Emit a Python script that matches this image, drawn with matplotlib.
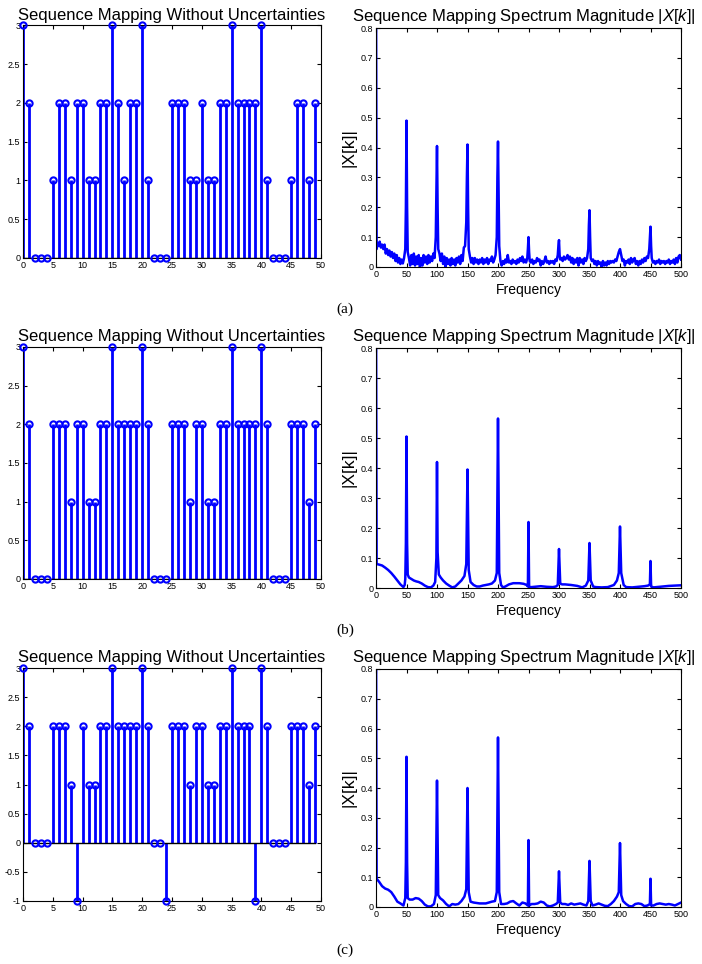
import matplotlib
matplotlib.use("Agg")
import matplotlib.pyplot as plt
import numpy as np

plt.rcParams['font.family'] = ['Liberation Sans', 'DejaVu Sans']
plt.rcParams['mathtext.fontset'] = 'custom'
plt.rcParams['mathtext.rm'] = 'Liberation Sans'
plt.rcParams['mathtext.it'] = 'Liberation Sans:italic'

# sequence values, n = 0..49
n = np.arange(50)
seq_a = [3, 2, 0, 0, 0, 1, 2, 2, 1, 2, 2, 1, 1, 2, 2, 3, 2, 1, 2, 2,
         3, 1, 0, 0, 0, 2, 2, 2, 1, 1, 2, 1, 1, 2, 2, 3, 2, 2, 2, 2,
         3, 1, 0, 0, 0, 1, 2, 2, 1, 2]
seq_b = [3, 2, 0, 0, 0, 2, 2, 2, 1, 2, 2, 1, 1, 2, 2, 3, 2, 2, 2, 2,
         3, 2, 0, 0, 0, 2, 2, 2, 1, 2, 2, 1, 1, 2, 2, 3, 2, 2, 2, 2,
         3, 2, 0, 0, 0, 2, 2, 2, 1, 2]
seq_c = [3, 2, 0, 0, 0, 2, 2, 2, 1, -1, 2, 1, 1, 2, 2, 3, 2, 2, 2, 2,
         3, 2, 0, 0, -1, 2, 2, 2, 1, 2, 2, 1, 1, 2, 2, 3, 2, 2, 2, -1,
         3, 2, 0, 0, 0, 2, 2, 2, 1, 2]

# spectrum (a): noisy
freq_a = [0, 1, 2, 4, 6, 8, 10, 12, 14, 16, 18, 20, 22, 24, 26, 28, 30, 32, 34, 36,
          38, 40, 42, 44, 46, 48, 49, 50, 51, 52, 54, 56, 58, 60, 62, 64, 66, 68, 70, 72,
          74, 76, 78, 80, 82, 84, 86, 88, 90, 92, 94, 96, 98, 99, 100, 101, 102, 104, 106, 108,
          110, 112, 114, 116, 118, 120, 122, 124, 126, 128, 130, 132, 134, 136, 138, 140, 142, 144, 146, 148,
          149, 150, 151, 152, 154, 156, 158, 160, 162, 164, 166, 168, 170, 172, 174, 176, 178, 180, 182, 184,
          186, 188, 190, 192, 194, 196, 198, 199, 200, 201, 202, 204, 206, 208, 210, 212, 214, 216, 218, 220,
          222, 224, 226, 228, 230, 232, 234, 236, 238, 240, 242, 244, 246, 248, 249, 250, 251, 252, 254, 256,
          258, 260, 262, 264, 266, 268, 270, 272, 274, 276, 278, 280, 282, 284, 286, 288, 290, 292, 294, 296,
          298, 299, 300, 301, 302, 304, 306, 308, 310, 312, 314, 316, 318, 320, 322, 324, 326, 328, 330, 332,
          334, 336, 338, 340, 342, 344, 346, 348, 349, 350, 351, 352, 354, 356, 358, 360, 362, 364, 366, 368,
          370, 372, 374, 376, 378, 380, 382, 384, 386, 388, 390, 392, 394, 396, 398, 400, 402, 404, 406, 408,
          410, 412, 414, 416, 418, 420, 422, 424, 426, 428, 430, 432, 434, 436, 438, 440, 442, 444, 446, 448,
          449, 450, 451, 452, 454, 456, 458, 460, 462, 464, 466, 468, 470, 472, 474, 476, 478, 480, 482, 484,
          486, 488, 490, 492, 494, 496, 498, 500]
mag_a = [1.0, 0.06, 0.08, 0.07, 0.085, 0.065, 0.075, 0.06, 0.075, 0.045, 0.06, 0.04, 0.055, 0.035, 0.05, 0.03, 0.045, 0.02, 0.04, 0.015,
         0.03, 0.01, 0.025, 0.012, 0.03, 0.06, 0.2, 0.49, 0.2, 0.05, 0.03, 0.005, 0.04, 0.01, 0.045, 0.005, 0.035, 0.01, 0.04, 0.0,
         0.03, 0.005, 0.04, 0.015, 0.035, 0.01, 0.04, 0.015, 0.035, 0.02, 0.045, 0.03, 0.1, 0.25, 0.405, 0.2, 0.06, 0.045, 0.02, 0.045,
         0.01, 0.035, 0.0, 0.03, 0.01, 0.025, 0.005, 0.03, 0.01, 0.025, 0.005, 0.03, 0.015, 0.035, 0.01, 0.04, 0.02, 0.065, 0.07, 0.15,
         0.3, 0.41, 0.2, 0.06, 0.035, 0.015, 0.03, 0.01, 0.03, 0.015, 0.025, 0.01, 0.025, 0.015, 0.03, 0.01, 0.025, 0.015, 0.03, 0.01,
         0.025, 0.02, 0.035, 0.015, 0.025, 0.04, 0.1, 0.3, 0.42, 0.25, 0.07, 0.02, 0.005, 0.02, 0.01, 0.025, 0.015, 0.04, 0.015, 0.02,
         0.01, 0.025, 0.015, 0.02, 0.01, 0.025, 0.015, 0.03, 0.02, 0.035, 0.015, 0.025, 0.015, 0.03, 0.06, 0.1, 0.05, 0.02, 0.015, 0.025,
         0.01, 0.02, 0.015, 0.03, 0.02, 0.025, 0.005, 0.02, 0.01, 0.02, 0.035, 0.015, 0.02, 0.01, 0.02, 0.015, 0.02, 0.01, 0.025, 0.02,
         0.04, 0.07, 0.09, 0.04, 0.025, 0.03, 0.02, 0.035, 0.025, 0.03, 0.04, 0.025, 0.035, 0.015, 0.03, 0.01, 0.025, 0.015, 0.03, 0.005,
         0.03, 0.015, 0.025, 0.01, 0.03, 0.02, 0.03, 0.06, 0.14, 0.19, 0.1, 0.03, 0.02, 0.025, 0.01, 0.02, 0.005, 0.02, 0.01, 0.015,
         0.0, 0.02, 0.005, 0.015, 0.005, 0.02, 0.01, 0.02, 0.015, 0.02, 0.015, 0.025, 0.02, 0.035, 0.05, 0.06, 0.04, 0.02, 0.025, 0.005,
         0.02, 0.015, 0.025, 0.01, 0.03, 0.015, 0.025, 0.03, 0.01, 0.02, 0.005, 0.02, 0.01, 0.025, 0.015, 0.03, 0.02, 0.035, 0.03, 0.06,
         0.1, 0.135, 0.07, 0.03, 0.015, 0.02, 0.01, 0.02, 0.015, 0.025, 0.01, 0.02, 0.015, 0.02, 0.01, 0.02, 0.015, 0.025, 0.01, 0.02,
         0.015, 0.025, 0.01, 0.03, 0.015, 0.035, 0.04, 0.025]

# spectrum (b): smooth
freq_b = [0, 1, 5, 10, 15, 20, 25, 30, 35, 40, 45, 47, 48, 49, 50, 51, 52, 54, 58, 62,
          66, 70, 75, 80, 85, 90, 94, 97, 99, 100, 101, 103, 106, 110, 115, 120, 125, 130, 135, 140,
          145, 148, 150, 152, 155, 160, 165, 170, 175, 180, 185, 190, 195, 198, 200, 202, 205, 208, 212, 218,
          225, 235, 242, 247, 249, 250, 251, 255, 260, 270, 280, 290, 295, 298, 300, 302, 305, 310, 320, 330,
          338, 344, 348, 350, 352, 356, 360, 370, 380, 390, 395, 398, 400, 402, 406, 410, 420, 430, 440, 446,
          449, 450, 451, 455, 460, 470, 480, 490, 500]
mag_b = [1.0, 0.08, 0.078, 0.075, 0.068, 0.06, 0.05, 0.038, 0.025, 0.012, 0.003, 0.01, 0.03, 0.15, 0.505, 0.15, 0.045, 0.035, 0.03, 0.025,
         0.022, 0.02, 0.015, 0.008, 0.003, 0.002, 0.008, 0.02, 0.1, 0.42, 0.12, 0.045, 0.035, 0.025, 0.015, 0.008, 0.002, 0.005, 0.015, 0.025,
         0.04, 0.08, 0.395, 0.06, 0.02, 0.01, 0.005, 0.005, 0.008, 0.01, 0.012, 0.015, 0.025, 0.05, 0.565, 0.05, 0.01, 0.002, 0.005, 0.012,
         0.016, 0.016, 0.014, 0.01, 0.005, 0.22, 0.003, 0.003, 0.004, 0.006, 0.004, 0.003, 0.005, 0.01, 0.13, 0.015, 0.012, 0.012, 0.01, 0.007,
         0.002, 0.008, 0.025, 0.15, 0.025, 0.005, 0.003, 0.002, 0.003, 0.01, 0.025, 0.05, 0.205, 0.05, 0.01, 0.003, 0.002, 0.004, 0.006, 0.008,
         0.012, 0.09, 0.005, 0.002, 0.003, 0.005, 0.007, 0.008, 0.009]

# spectrum (c): smooth
freq_c = [0, 1, 5, 10, 15, 20, 25, 30, 35, 40, 45, 48, 49, 50, 51, 52, 55, 60, 65, 70,
          75, 80, 85, 90, 95, 98, 100, 102, 105, 110, 115, 120, 125, 130, 135, 140, 145, 148, 150, 152,
          155, 160, 170, 180, 190, 195, 198, 200, 202, 205, 210, 215, 220, 225, 230, 235, 240, 245, 249, 250,
          251, 255, 260, 265, 270, 275, 280, 285, 290, 295, 298, 300, 302, 305, 310, 315, 320, 325, 330, 335,
          340, 345, 348, 350, 352, 355, 360, 365, 370, 375, 380, 385, 390, 395, 398, 400, 402, 405, 410, 415,
          420, 425, 430, 435, 440, 445, 449, 450, 451, 455, 460, 465, 470, 475, 480, 485, 490, 495, 500]
mag_c = [1.0, 0.095, 0.085, 0.07, 0.062, 0.058, 0.05, 0.035, 0.018, 0.012, 0.005, 0.03, 0.15, 0.505, 0.15, 0.03, 0.025, 0.025, 0.03, 0.028,
         0.02, 0.008, 0.002, 0.002, 0.01, 0.04, 0.425, 0.04, 0.03, 0.022, 0.01, 0.002, 0.01, 0.008, 0.01, 0.02, 0.035, 0.06, 0.4, 0.05,
         0.018, 0.015, 0.012, 0.012, 0.018, 0.02, 0.05, 0.57, 0.05, 0.01, 0.01, 0.012, 0.018, 0.02, 0.012, 0.005, 0.015, 0.012, 0.005, 0.225,
         0.005, 0.01, 0.01, 0.012, 0.018, 0.015, 0.005, 0.002, 0.005, 0.01, 0.015, 0.12, 0.015, 0.01, 0.01, 0.007, 0.012, 0.008, 0.01, 0.012,
         0.008, 0.005, 0.02, 0.155, 0.02, 0.005, 0.008, 0.012, 0.008, 0.004, 0.003, 0.01, 0.02, 0.035, 0.05, 0.215, 0.04, 0.02, 0.01, 0.003,
         0.002, 0.01, 0.012, 0.01, 0.003, 0.005, 0.01, 0.095, 0.005, 0.005, 0.01, 0.012, 0.01, 0.008, 0.01, 0.008, 0.005, 0.01, 0.015]

seqs = [seq_a, seq_b, seq_c]
specs = [(freq_a, mag_a), (freq_b, mag_b), (freq_c, mag_c)]
panel_labels = ["(a)", "(b)", "(c)"]

W, H = 702.0, 964.0
def box(x0, y0, x1, y1):
    return [x0 / W, 1 - y1 / H, (x1 - x0) / W, (y1 - y0) / H]

left_boxes = [(23, 25.5, 321, 258), (23, 347, 321, 579), (23, 668, 321, 901)]
right_boxes = [(376, 28, 681, 267), (376, 348, 681, 588), (376, 669, 681, 907)]
label_y = [309, 630, 950]

blue = (0, 0, 1)
fig = plt.figure(figsize=(7.02, 9.64), dpi=100)

for i in range(3):
    # stem plot
    ax = fig.add_axes(box(*left_boxes[i]))
    y = seqs[i]
    ml, sl, bl = ax.stem(n, y, linefmt='-', markerfmt='o', basefmt='k-')
    plt.setp(sl, color=blue, linewidth=2)
    plt.setp(ml, color=blue, markersize=4.5, markerfacecolor='none', markeredgewidth=1.5, clip_on=False, zorder=5)
    plt.setp(bl, color='k', linewidth=1)
    ax.set_xlim(0, 50)
    if i == 2:
        ax.set_ylim(-1, 3)
        ax.set_yticks(np.arange(-1, 3.01, 0.5))
        ax.set_yticklabels(["-1", "-0.5", "0", "0.5", "1", "1.5", "2", "2.5", "3"])
    else:
        ax.set_ylim(0, 3)
        ax.set_yticks(np.arange(0, 3.01, 0.5))
        ax.set_yticklabels(["0", "0.5", "1", "1.5", "2", "2.5", "3"])
    ax.set_xticks(np.arange(0, 51, 5))
    ax.tick_params(direction='in', top=True, right=True, length=3, width=0.8, labelsize=6.5, pad=2)
    ax.set_title("Sequence Mapping Without Uncertainties", fontsize=12, pad=4)

    # spectrum
    ax2 = fig.add_axes(box(*right_boxes[i]))
    f, m = specs[i]
    ax2.plot(f, m, color=blue, linewidth=1.8)
    ax2.set_xlim(0, 500)
    ax2.set_ylim(0, 0.8)
    ax2.set_xticks(np.arange(0, 501, 50))
    ax2.set_yticks(np.arange(0, 0.81, 0.1))
    ax2.set_yticklabels(["0", "0.1", "0.2", "0.3", "0.4", "0.5", "0.6", "0.7", "0.8"])
    ax2.tick_params(direction='in', top=True, right=True, length=3, width=0.8, labelsize=6.5, pad=2)
    ax2.set_xlabel("Frequency", fontsize=10, labelpad=3)
    ax2.set_ylabel("|X[k]|", fontsize=12.5, labelpad=3)
    ax2.set_title(r"Sequence Mapping Spectrum Magnitude $|X[k]|$", fontsize=12, pad=5, loc='left', x=-0.08)
    for sp in ax2.spines.values():
        sp.set_linewidth(0.8)
    for sp in ax.spines.values():
        sp.set_linewidth(0.8)

    fig.text(345 / W, 1 - label_y[i] / H, panel_labels[i], family='Liberation Serif',
             fontsize=11, ha='center', va='center')

fig.savefig("out.png", dpi=100)
